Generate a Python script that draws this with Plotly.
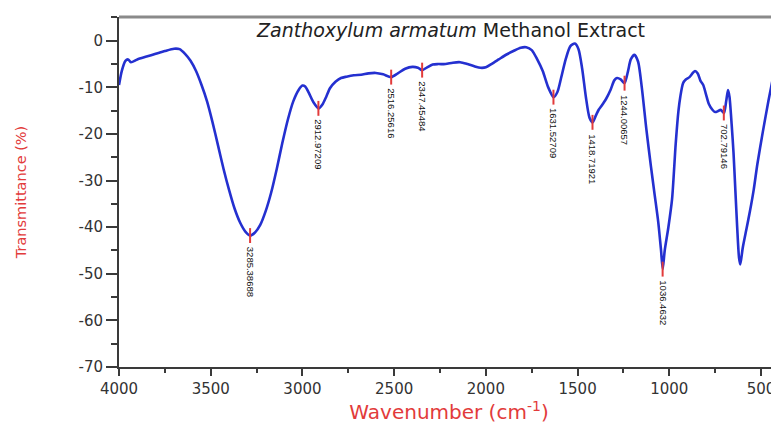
import plotly.graph_objects as go

# ---- data ----
wavenumber = [4000, 3985, 3965, 3950, 3935, 3900, 3850, 3800, 3750, 3700, 3670, 3640, 3610, 3580,
              3550, 3520, 3490, 3460, 3430, 3400, 3370, 3340, 3310, 3285, 3260, 3230, 3200, 3170,
              3140, 3110, 3080, 3050, 3020, 3000, 2985, 2965, 2940, 2912, 2890, 2870, 2850, 2820,
              2790, 2760, 2720, 2680, 2640, 2600, 2560, 2516, 2480, 2440, 2400, 2370, 2347, 2320,
              2290, 2260, 2220, 2180, 2140, 2100, 2060, 2030, 2000, 1970, 1930, 1890, 1850, 1810,
              1780, 1750, 1720, 1690, 1660, 1631, 1610, 1590, 1565, 1540, 1515, 1495, 1475, 1455,
              1435, 1418, 1400, 1385, 1370, 1345, 1320, 1300, 1285, 1265, 1244, 1225, 1210, 1190,
              1170, 1150, 1125, 1100, 1080, 1060, 1045, 1036, 1025, 1005, 985, 965, 950, 940, 925,
              910, 890, 870, 860, 845, 830, 815, 800, 785, 765, 750, 735, 720, 702, 690, 680, 672,
              660, 650, 640, 630, 620, 613, 600, 580, 560, 540, 520, 490, 460, 430, 405]
transmittance = [-9.5, -6.5, -4.3, -4.0, -4.6, -4.0, -3.4, -2.8, -2.2, -1.7, -1.8, -2.8, -4.3, -6.5,
                 -9.5, -13.0, -17.5, -22.5, -27.5, -32.0, -36.0, -39.0, -41.0, -41.8, -41.2, -39.5, -36.5, -32.5,
                 -27.5, -22.0, -17.0, -13.0, -10.5, -9.6, -9.8, -11.2, -13.2, -14.5, -13.6, -12.0, -10.2, -8.8,
                 -8.0, -7.7, -7.4, -7.3, -7.0, -6.9, -7.2, -7.8, -7.0, -6.0, -5.6, -5.8, -6.3, -5.7,
                 -5.1, -5.0, -5.0, -4.7, -4.6, -5.0, -5.5, -5.8, -5.7, -5.0, -4.0, -3.0, -2.2, -1.5,
                 -1.4, -2.0, -4.0, -6.5, -10.0, -12.1, -11.0, -8.0, -4.0, -1.2, -0.6, -1.8, -6.0, -12.0,
                 -16.5, -17.5, -16.0, -14.8, -14.0, -12.5, -10.5, -8.5, -8.0, -8.3, -9.1, -6.5, -4.0, -3.0,
                 -4.5, -10.0, -19.0, -27.0, -33.0, -39.0, -45.0, -49.0, -45.0, -40.0, -34.0, -22.0, -15.0, -12.0, -9.1,
                 -8.3, -7.8, -6.8, -6.5, -7.0, -8.6, -9.5, -11.5, -13.5, -14.8, -15.3, -15.1, -14.8, -15.5, -13.0, -10.6, -12.0,
                 -18.0, -24.0, -32.0, -40.0, -46.5, -48.0, -44.5, -40.5, -36.5, -32.0, -26.5, -19.5, -13.0, -7.0, -2.4]

peak_wn = [3285.38688, 2912.97209, 2516.25616, 2347.45484, 1631.52709, 1418.71921, 1244.00657, 1036.4632, 702.79146]
peak_t = [-41.8, -14.5, -7.8, -6.3, -12.1, -17.5, -9.1, -49.0, -15.5]
peak_labels = ["3285.38688", "2912.97209", "2516.25616", "2347.45484", "1631.52709",
               "1418.71921", "1244.00657", "1036.4632", "702.79146"]

x_tick_vals = [4000, 3500, 3000, 2500, 2000, 1500, 1000, 500]
x_tick_text = ["4000", "3500", "3000", "2500", "2000", "1500", "1000", "500"]
y_tick_vals = [0, -10, -20, -30, -40, -50, -60, -70]
y_tick_text = ["0", "-10", "-20", "-30", "-40", "-50", "-60", "-70"]

title_italic = "Zanthoxylum armatum"
title_rest = "Methanol Extract"
x_title = "Wavenumber (cm<sup>-1</sup>)"
y_title = "Transmittance (%)"

BLUE = "#2430d0"
RED = "#e23b3b"
AXIS = "#3a3a3a"

fig = go.Figure()
fig.add_trace(go.Scatter(x=wavenumber, y=transmittance, mode="lines",
                         line=dict(color=BLUE, width=2.6, shape="spline", smoothing=0.7),
                         hoverinfo="x+y", showlegend=False))

# red peak markers
mx, my = [], []
for w, t in zip(peak_wn, peak_t):
    mx += [w, w, None]
    my += [t + 1.6, t - 1.6, None]
fig.add_trace(go.Scatter(x=mx, y=my, mode="lines", line=dict(color=RED, width=2),
                         hoverinfo="skip", showlegend=False))

for w, t, lab in zip(peak_wn, peak_t, peak_labels):
    fig.add_annotation(x=w, y=t - 2.0, text=lab, textangle=90, showarrow=False,
                       xanchor="center", yanchor="top",
                       font=dict(family="Liberation Sans, Arial, sans-serif", size=9.5, color="#111"))

fig.add_annotation(xref="paper", yref="paper", x=0.503, y=0.962,
                   text=f"<i>{title_italic}</i> {title_rest}", showarrow=False,
                   xanchor="center", yanchor="middle",
                   font=dict(family="DejaVu Sans, sans-serif", size=19, color="#222"))

# grey top frame line
fig.add_shape(type="line", xref="paper", yref="paper", x0=0, x1=1, y0=1, y1=1,
              line=dict(color="#8a8a8a", width=3))

# page body has an 8px margin, so the figure is 8px smaller and margins shifted
fig.update_layout(
    width=771, height=416,
    margin=dict(l=111, r=0, t=9, b=57),
    paper_bgcolor="white", plot_bgcolor="white",
    xaxis=dict(range=[4000, 402], tickvals=x_tick_vals, ticktext=x_tick_text,
               showgrid=False, zeroline=False, showline=True, linecolor=AXIS, linewidth=2,
               ticks="outside", ticklen=7, tickwidth=1.5, tickcolor=AXIS,
               minor=dict(dtick=250, tick0=0, ticks="outside", ticklen=4, tickwidth=1.5, tickcolor=AXIS),
               tickfont=dict(family="DejaVu Sans, sans-serif", size=15, color="#333"),
               title=dict(text=x_title, standoff=8,
                          font=dict(family="DejaVu Sans, sans-serif", size=20, color=RED))),
    yaxis=dict(range=[-70, 5.1], tickvals=y_tick_vals, ticktext=y_tick_text,
               showgrid=False, zeroline=False, showline=True, linecolor=AXIS, linewidth=2,
               ticks="outside", ticklen=11, tickwidth=1.5, tickcolor=AXIS,
               minor=dict(dtick=5, tick0=0, ticks="outside", ticklen=6, tickwidth=1.5, tickcolor=AXIS),
               tickfont=dict(family="DejaVu Sans, sans-serif", size=15, color="#333"),
               title=dict(text=y_title, standoff=48,
                          font=dict(family="DejaVu Sans, sans-serif", size=14.5, color=RED))),
)

fig.write_html("out.html")
